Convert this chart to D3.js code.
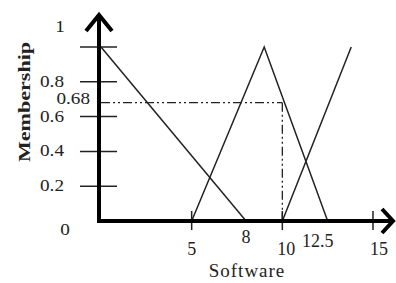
<!DOCTYPE html>
<html>
<head>
    <meta charset="utf-8" />
    <title>Membership - Software</title>
    <script src="https://d3js.org/d3.v7.min.js"></script>
    <style>
    body { margin: 0; background: #fff; }
    text { font-family: "Liberation Serif", "Times New Roman", serif; fill: #222; }
    .axis { stroke: #000; stroke-width: 4; fill: none; }
    .tick { stroke: #222; stroke-width: 1.5; }
    .mf { stroke: #222; stroke-width: 1.5; fill: none; }
    .guide { stroke: #222; stroke-width: 1.3; fill: none; stroke-dasharray: 9,3,2,3,2,3; }
    </style>
</head>
<body>
<script>
    // tick marks and labels
    var yTicks = [0.2, 0.4, 0.6, 0.8, 1];
    var yLabels = [0, 0.2, 0.4, 0.6, 0.68, 0.8, 1];
    var xTicks = [5, 10, 15];
    var xLabels = [5, 8, 10, 12.5, 15];

    // membership functions (x, membership)
    var lowSet = [[0, 1], [8, 0]];
    var mediumSet = [[5, 0], [9, 1], [12.5, 0]];
    var highSet = [[10, 0], [13.8, 1]];

    // cut at 0.68
    var cutValue = 0.68;
    var cutX = 10;

    var width = 396, height = 283;

    var svg = d3.select("body").append("svg")
        .attr("width", width)
        .attr("height", height);

    var x = d3.scaleLinear().domain([0, 15]).range([101, 373]);
    var y = d3.scaleLinear().domain([0, 1]).range([221, 47]);

    var line = d3.line()
        .x(function(d) { return x(d[0]); })
        .y(function(d) { return y(d[1]); });

    // y tick lines
    svg.selectAll(".ytick")
        .data(yTicks)
        .enter().append("line")
        .attr("class", "tick")
        .attr("x1", x(0) - 21).attr("x2", x(0) + 16)
        .attr("y1", function(d) { return y(d); })
        .attr("y2", function(d) { return y(d); });

    // x tick lines
    svg.selectAll(".xtick")
        .data(xTicks)
        .enter().append("line")
        .attr("class", "tick")
        .attr("x1", function(d) { return x(d); })
        .attr("x2", function(d) { return x(d); })
        .attr("y1", y(0) - 10).attr("y2", y(0) + 9);

    // membership lines
    svg.selectAll(".mf")
        .data([lowSet, mediumSet, highSet])
        .enter().append("path")
        .attr("class", "mf")
        .attr("d", line);

    // dash-dot guides
    svg.append("path")
        .attr("class", "guide")
        .attr("d", line([[0, cutValue], [cutX, cutValue]]));
    svg.append("path")
        .attr("class", "guide")
        .attr("d", line([[cutX, cutValue], [cutX, 0]]));

    // axes with open arrow heads
    var ox = x(0) - 2, oy = y(0);
    svg.append("path")
        .attr("class", "axis")
        .attr("d", "M" + ox + "," + (oy + 2) + "V15");
    svg.append("path")
        .attr("class", "axis")
        .attr("d", "M" + (ox - 13) + ",31L" + ox + ",15L" + (ox + 13) + ",31");
    svg.append("path")
        .attr("class", "axis")
        .attr("d", "M" + (ox - 2) + "," + oy + "H393");
    svg.append("path")
        .attr("class", "axis")
        .attr("d", "M382," + (oy - 12) + "L393," + oy + "L382," + (oy + 12));

    // y labels
    svg.selectAll(".ylab")
        .data(yLabels)
        .enter().append("text")
        .attr("text-anchor", function(d) { return (d === 1 || d === 0) ? "middle" : "end"; })
        .attr("font-size", 16)
        .attr("transform", function(d) {
            var tx = 64, ty = y(d) + 5;
            if (d === 1) { tx = 60; ty = y(d) - 15; }
            if (d === 0) { tx = 65; ty = y(d) + 14; }
            if (d === cutValue) { tx = 90; ty = y(d) + 1; }
            return "translate(" + tx + "," + ty + ") scale(1.2,1)";
        })
        .text(function(d) { return String(d); });

    // x labels
    svg.selectAll(".xlab")
        .data(xLabels)
        .enter().append("text")
        .attr("text-anchor", "middle")
        .attr("font-size", 18)
        .attr("x", function(d) {
            if (d === 10) return x(d) + 4;
            if (d === 15) return x(d) + 6;
            if (d === 12.5) return x(d) - 10;
            return x(d);
        })
        .attr("y", function(d) {
            if (d === 8) return 243;
            if (d === 12.5) return 247;
            return 255;
        })
        .text(function(d) { return String(d); });

    // axis titles
    svg.append("text")
        .attr("text-anchor", "middle")
        .attr("font-size", 19)
        .attr("letter-spacing", 1)
        .attr("x", 247)
        .attr("y", 277)
        .text("Software");

    svg.append("text")
        .attr("text-anchor", "middle")
        .attr("font-size", 16)
        .attr("font-weight", "bold")
        .attr("transform", "translate(30,102) rotate(-90) scale(1.38,1)")
        .text("Membership");
</script>
</body>
</html>
